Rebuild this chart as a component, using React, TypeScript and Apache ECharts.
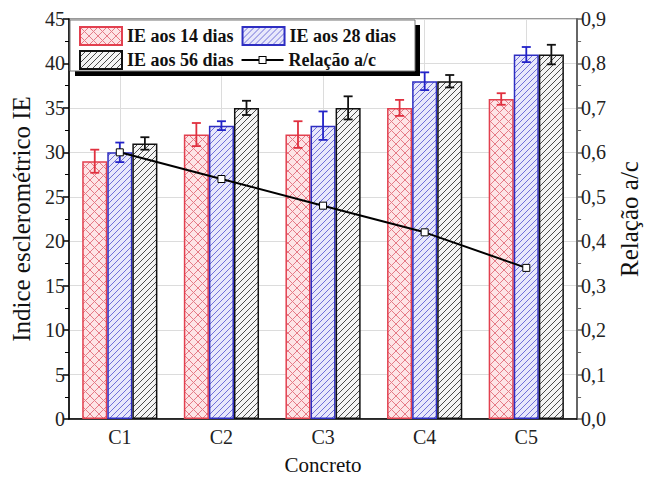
import React, { useEffect, useRef } from "react";
import * as echarts from "echarts";

const categories = ["C1", "C2", "C3", "C4", "C5"];
const ie14 = [29, 32, 32, 35, 36];
const ie14Err = [1.3, 1.3, 1.5, 0.9, 0.65];
const ie28 = [30, 33, 33, 38, 41];
const ie28Err = [1.1, 0.5, 1.6, 1.0, 0.85];
const ie56 = [31, 35, 35, 38, 41];
const ie56Err = [0.7, 0.8, 1.3, 0.7, 1.1];
const relacaoAC = [0.6, 0.54, 0.48, 0.42, 0.34];

const NAME14 = "IE aos 14 dias";
const NAME28 = "IE aos 28 dias";
const NAME56 = "IE aos 56 dias";
const NAMELINE = "Relação a/c";

const SERIF = "'Liberation Serif', 'Times New Roman', serif";
const CAT_GAP = 0.26;

function makePattern(size: number, bg: string, line: string, lw: number, cross: boolean) {
  const c = document.createElement("canvas");
  c.width = size;
  c.height = size;
  const ctx = c.getContext("2d")!;
  ctx.fillStyle = bg;
  ctx.fillRect(0, 0, size, size);
  ctx.strokeStyle = line;
  ctx.lineWidth = lw;
  const seg = (x0: number, y0: number, x1: number, y1: number) => {
    ctx.beginPath();
    ctx.moveTo(x0, y0);
    ctx.lineTo(x1, y1);
    ctx.stroke();
  };
  seg(-1, size + 1, size + 1, -1);
  seg(-1, 1, 1, -1);
  seg(size - 1, size + 1, size + 1, size - 1);
  if (cross) {
    seg(-1, -1, size + 1, size + 1);
    seg(size - 1, -1, size + 1, 1);
    seg(-1, size - 1, 1, size + 1);
  }
  return { image: c.toDataURL(), repeat: "repeat", imageWidth: size, imageHeight: size };
}

function errSeries(name: string, vals: number[], errs: number[], k: number, color: string) {
  return {
    type: "custom",
    name,
    z: 6,
    data: vals.map((v, i) => [i, v, errs[i]]),
    encode: { x: 0, y: 1 },
    yAxisIndex: 0,
    renderItem: (params: any, api: any) => {
      const i = api.value(0);
      const v = api.value(1);
      const e = api.value(2);
      const c = api.coord([i, v]);
      const band = api.size([1, 0])[0];
      const bw = (band * (1 - CAT_GAP)) / 3;
      const x = c[0] + (k - 1) * bw;
      const yt = api.coord([i, v + e])[1];
      const yb = api.coord([i, v - e])[1];
      const cap = 4.5;
      const st = { stroke: color, lineWidth: 1.8 };
      return {
        type: "group",
        children: [
          { type: "line", shape: { x1: x, y1: yt, x2: x, y2: yb }, style: st },
          { type: "line", shape: { x1: x - cap, y1: yt, x2: x + cap, y2: yt }, style: st },
          { type: "line", shape: { x1: x - cap, y1: yb, x2: x + cap, y2: yb }, style: st },
        ],
      };
    },
  };
}

export default function App() {
  const ref = useRef<HTMLDivElement>(null);
  useEffect(() => {
    if (!ref.current) return;
    const chart = echarts.init(ref.current, undefined, { renderer: "svg" });
    const pRed = makePattern(9, "#fde4e6", "#e57a86", 1, true);
    const pBlue = makePattern(6, "#e8e8fb", "#7070d8", 1, false);
    const pBlack = makePattern(6, "#f4f4f4", "#4a4a4a", 1, false);

    const axisLabel = { fontFamily: SERIF, fontSize: 20, color: "#222" };
    const nameStyle = { fontFamily: SERIF, fontSize: 21, color: "#111" };
    const vNameStyle = { fontFamily: SERIF, fontSize: 25, color: "#111" };
    const lineIcon =
      "path://M0,3 L17,3 L17,5 L0,5 Z M17,0 L25,0 L25,8 L17,8 Z M18,1 L18,7 L24,7 L24,1 Z M25,3 L42,3 L42,5 L25,5 Z";

    const legendBase = {
      left: 79,
      itemWidth: 42,
      itemHeight: 18,
      itemGap: 8,
      symbolKeepAspect: true,
      z: 10,
      padding: 0,
      textStyle: { fontFamily: SERIF, fontSize: 18, fontWeight: "bold", color: "#111" },
    };

    chart.setOption({
      animation: false,
      backgroundColor: "#fff",
      grid: {
        left: 69,
        right: 67,
        top: 19,
        bottom: 58,
        show: true,
        borderColor: "#333",
        borderWidth: 1,
        backgroundColor: "transparent",
      },
      graphic: [
        { type: "rect", z: 1, shape: { x: 75, y: 25, width: 345, height: 51 }, style: { fill: "#000" } },
        {
          type: "rect",
          z: 1,
          shape: { x: 70, y: 20, width: 345, height: 51 },
          style: { fill: "#fff", stroke: "#777", lineWidth: 1 },
        },
      ],
      legend: [
        {
          ...legendBase,
          top: 26,
          data: [
            { name: NAME14, icon: "rect" },
            { name: NAME28, icon: "rect" },
          ],
        },
        {
          ...legendBase,
          top: 50,
          data: [
            { name: NAME56, icon: "rect" },
            { name: NAMELINE, icon: lineIcon, itemStyle: { color: "#000", borderWidth: 0 } },
          ],
        },
      ],
      xAxis: {
        type: "category",
        data: categories,
        name: "Concreto",
        nameLocation: "middle",
        nameGap: 35,
        nameTextStyle: nameStyle,
        axisLine: { lineStyle: { color: "#000", width: 1.5 } },
        axisTick: { alignWithLabel: true, length: 6, lineStyle: { color: "#000", width: 1.5 } },
        axisLabel: { ...axisLabel, margin: 8 },
        splitLine: { show: true, alignWithLabel: true, lineStyle: { color: "#dcdcdc", width: 1 } },
      },
      yAxis: [
        {
          type: "value",
          min: 0,
          max: 45,
          interval: 5,
          name: "Indice esclerométrico IE",
          nameLocation: "middle",
          nameRotate: 90,
          nameGap: 33,
          nameTextStyle: vNameStyle,
          axisLine: { show: true, lineStyle: { color: "#000", width: 1.5 } },
          axisTick: { show: true, length: 6, lineStyle: { color: "#000", width: 1.5 } },
          minorTick: { show: true, splitNumber: 2, length: 4, lineStyle: { color: "#000", width: 1 } },
          axisLabel: { ...axisLabel, margin: 4 },
          splitLine: { show: true, lineStyle: { color: "#dcdcdc", width: 1 } },
        },
        {
          type: "value",
          min: 0,
          max: 0.9,
          interval: 0.1,
          name: NAMELINE,
          nameLocation: "middle",
          nameRotate: 90,
          nameGap: 37,
          nameTextStyle: vNameStyle,
          axisLine: { show: true, lineStyle: { color: "#666", width: 2 } },
          axisTick: { show: true, length: 6, lineStyle: { color: "#666", width: 1.5 } },
          minorTick: { show: true, splitNumber: 2, length: 4, lineStyle: { color: "#666", width: 1 } },
          axisLabel: {
            ...axisLabel,
            margin: 4,
            formatter: (v: number) => v.toFixed(1).replace(".", ","),
          },
          splitLine: { show: false },
        },
      ],
      series: [
        {
          type: "bar",
          name: NAME14,
          data: ie14,
          barGap: "0%",
          barCategoryGap: CAT_GAP * 100 + "%",
          itemStyle: { color: pRed, borderColor: "#e2404f", borderWidth: 1.5 },
        },
        {
          type: "bar",
          name: NAME28,
          data: ie28,
          barGap: "0%",
          barCategoryGap: CAT_GAP * 100 + "%",
          itemStyle: { color: pBlue, borderColor: "#2e2ec2", borderWidth: 1.5 },
        },
        {
          type: "bar",
          name: NAME56,
          data: ie56,
          barGap: "0%",
          barCategoryGap: CAT_GAP * 100 + "%",
          itemStyle: { color: pBlack, borderColor: "#111", borderWidth: 1.5 },
        },
        errSeries("err14", ie14, ie14Err, 0, "#e0303f"),
        errSeries("err28", ie28, ie28Err, 1, "#2323c8"),
        errSeries("err56", ie56, ie56Err, 2, "#111"),
        {
          type: "line",
          name: NAMELINE,
          yAxisIndex: 1,
          data: relacaoAC,
          z: 8,
          symbol: "rect",
          symbolSize: 7,
          showAllSymbol: true,
          lineStyle: { color: "#000", width: 2 },
          itemStyle: { color: "#fff", borderColor: "#000", borderWidth: 1 },
        },
      ],
    });
    return () => chart.dispose();
  }, []);
  return (
    <div
      ref={ref}
      style={{ position: "fixed", left: 0, top: 0, width: 650, height: 480, background: "#fff" }}
    />
  );
}
